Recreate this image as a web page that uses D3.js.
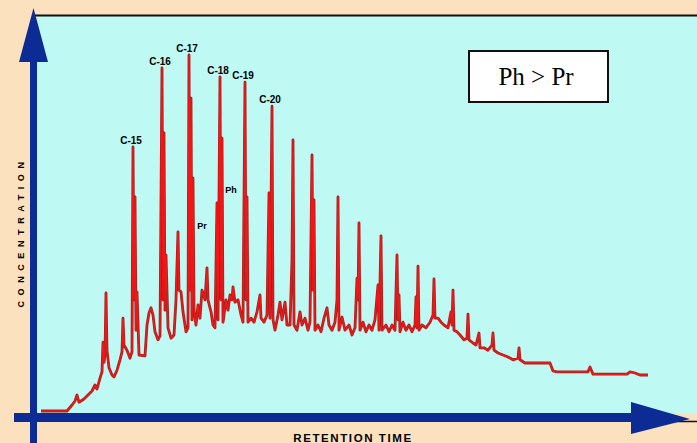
<!DOCTYPE html>
<html>
<head>
<meta charset="utf-8">
<script src="https://cdn.jsdelivr.net/npm/d3@7"></script>
<style>
  html, body { margin: 0; padding: 0; background: #fce1bf; }
  svg { display: block; }
</style>
</head>
<body>
<div id="chart"></div>
<script>
// Retention time (min) and detector response (% of full scale)
var times = [0.3, 2.9, 3.4, 3.7, 3.9, 4.1, 4.6, 5.0, 5.4, 5.7, 5.9, 6.2, 6.4, 6.5, 6.6, 6.7, 6.8, 6.9, 7.1, 7.4,
    7.6, 7.9, 8.2, 8.4, 8.5, 8.6, 8.9, 9.2, 9.4, 9.5, 9.6, 9.7, 9.8, 9.9, 10.1, 10.7, 10.9, 11.1, 11.3, 11.5,
    11.7, 12.0, 12.2, 12.4, 12.5, 12.6, 12.7, 12.8, 13.0, 13.3, 13.6, 13.8, 14.0, 14.1, 14.3, 14.5, 14.8, 15.0, 15.1, 15.2,
    15.3, 15.4, 15.5, 15.6, 15.8, 16.0, 16.2, 16.4, 16.7, 16.9, 17.0, 17.3, 17.5, 17.7, 17.9, 18.0, 18.2, 18.3, 18.4, 18.5,
    18.8, 19.0, 19.2, 19.4, 19.5, 19.7, 20.0, 20.3, 20.5, 20.7, 20.8, 20.9, 21.0, 21.3, 21.6, 21.9, 22.2, 22.3, 22.6, 22.9,
    23.1, 23.2, 23.4, 23.5, 23.7, 24.0, 24.2, 24.4, 24.7, 24.9, 25.2, 25.4, 25.5, 25.6, 25.9, 26.2, 26.4, 26.7, 27.0, 27.2,
    27.4, 27.5, 27.6, 27.7, 28.0, 28.3, 28.6, 28.9, 29.1, 29.4, 29.7, 29.9, 30.0, 30.1, 30.4, 30.7, 31.1, 31.4, 31.7, 31.9,
    32.0, 32.1, 32.2, 32.5, 32.8, 33.1, 33.4, 33.7, 34.0, 34.1, 34.3, 34.4, 34.8, 35.1, 35.4, 35.7, 35.9, 36.0, 36.1, 36.2,
    36.5, 36.8, 37.1, 37.4, 37.7, 37.8, 37.9, 38.0, 38.1, 38.4, 38.8, 39.2, 39.5, 39.6, 39.7, 40.0, 40.3, 40.6, 41.0, 41.3,
    41.4, 41.5, 41.6, 41.9, 42.2, 42.6, 42.9, 43.0, 43.1, 43.5, 43.8, 44.1, 44.2, 44.6, 45.0, 45.4, 45.5, 45.6, 46.0, 46.5,
    47.0, 47.5, 48.0, 48.1, 48.2, 48.7, 49.2, 49.9, 51.2, 51.5, 51.9, 53.2, 55.0, 55.2, 55.5, 55.9, 57.2, 58.9, 59.2, 59.7,
    60.2, 61.0];
var response = [0, 0, 1.5, 2.5, 4, 2.2, 3, 4, 5, 6.5, 5.5, 8.2, 9.8, 17.2, 12.2, 14, 29.5, 15.2, 10.8, 9,
    8.5, 10.2, 12.8, 14.8, 23.2, 16.5, 15.2, 13.2, 14.8, 66, 27.8, 53.5, 20.2, 29.8, 14, 13.8, 21.5, 24.5, 25.8, 24,
    19.8, 17.8, 18.8, 85.8, 27.8, 69.5, 25.2, 39, 20.8, 18.2, 19, 27.8, 44.8, 30.2, 29.8, 24.8, 19.8, 20.8, 89, 30.2,
    78.2, 22.8, 58.2, 25.2, 21.5, 26.5, 23.2, 30.2, 27.8, 35.8, 27.8, 24.8, 21.5, 20.8, 52, 22.8, 83.5, 27.8, 68.2, 22.2,
    27.8, 25.2, 29, 27.8, 31, 27.2, 27.8, 24, 22.2, 82.2, 27.8, 53.5, 22.2, 23.2, 22.2, 24.8, 29, 23.2, 22.2, 24,
    54.5, 23.2, 76.2, 22.8, 20.2, 24, 27.2, 22.8, 27.2, 21.5, 21.5, 37.8, 67.8, 21.5, 20.2, 24.8, 21.5, 23.2, 20.2, 22.2,
    64, 30.2, 52.8, 20.2, 21.5, 19.8, 23.2, 25.8, 21.5, 20.2, 22.2, 27.8, 53.5, 20.2, 23.5, 20.2, 21.5, 19, 20.8, 33.2,
    27.8, 47, 20.2, 22.2, 19.8, 21.5, 20.2, 22.8, 31.5, 20.2, 43.8, 20.2, 21.5, 19.8, 21.5, 20.2, 39, 22.8, 29, 19.8,
    22.2, 20.2, 21.5, 19.8, 21.5, 28.5, 20.8, 36.2, 20.2, 21.5, 20.8, 22.2, 24, 33, 23.2, 23.2, 22.2, 21.5, 20.8, 24.8,
    21.5, 30.2, 20.2, 19.8, 19, 17.8, 18.2, 24.2, 17.8, 17, 16.5, 19.5, 15.8, 15.8, 15.2, 16.5, 19.5, 15.2, 14.5, 14,
    13.5, 12.8, 13.2, 15.8, 12.8, 12, 12, 12, 12, 10, 9.8, 9.8, 9.8, 11, 9.2, 9.2, 9.2, 9.2, 9.8, 9.5,
    9, 9];

// Labelled n-alkane peaks (time, height)
var peakNames = ["C-15", "C-16", "C-17", "C-18", "C-19", "C-20"];
var peakTimes = [9.5, 12.4, 15.1, 18.2, 20.7, 23.4];
var peakHeights = [66, 85.8, 89, 83.5, 82.2, 76.2];

// Isoprenoid labels, placed where the text sits on the trace
var isoNames = ["Pr", "Ph"];
var isoTimes = [16.4, 19.3];
var isoHeights = [45.5, 54.5];

var xLabel = "RETENTION TIME",
    yLabel = "CONCENTRATION",
    boxText = "Ph > Pr";

var width = 697, height = 443;

var xScale = d3.scaleLinear().domain([0, 66]).range([38, 698]),
    yScale = d3.scaleLinear().domain([0, 100]).range([411, 11]);

var trace = times.map(function(t, i) { return {t: t, v: response[i]}; });

var svg = d3.select("#chart").append("svg")
    .attr("width", width)
    .attr("height", height);

// Background: beige page, cyan plot area
svg.append("rect")
    .attr("width", width).attr("height", height)
    .attr("fill", "#fce1bf");
svg.append("rect")
    .attr("x", 37).attr("y", 15)
    .attr("width", width - 37).attr("height", 398)
    .attr("fill", "#bff9f3");

// Top border line
svg.append("line")
    .attr("x1", 33).attr("x2", width)
    .attr("y1", 15.5).attr("y2", 15.5)
    .style("stroke", "#111").style("stroke-width", 2);

// Black line under the x arrow tip
svg.append("line")
    .attr("x1", 640).attr("x2", width)
    .attr("y1", 421.5).attr("y2", 421.5)
    .style("stroke", "#111").style("stroke-width", 1.5);

// The trace: dark edge, then bright red core
var line = d3.line()
    .x(function(d) { return xScale(d.t); })
    .y(function(d) { return yScale(d.v); });

svg.append("path")
    .datum(trace)
    .attr("d", line)
    .attr("fill", "none")
    .style("stroke", "#a32020")
    .style("stroke-width", 2.8)
    .style("stroke-linejoin", "round");
svg.append("path")
    .datum(trace)
    .attr("d", line)
    .attr("fill", "none")
    .style("stroke", "#f21616")
    .style("stroke-width", 1.4)
    .style("stroke-linejoin", "round");

// Axes drawn as thick blue arrows
var blue = "#0c2b94";
svg.append("rect")
    .attr("x", 30).attr("y", 55)
    .attr("width", 7).attr("height", height - 55)
    .attr("fill", blue);
svg.append("path")
    .attr("d", "M33.5,8 L48,62 L19,62 Z")
    .attr("fill", blue);
svg.append("rect")
    .attr("x", 14).attr("y", 413)
    .attr("width", 625).attr("height", 9)
    .attr("fill", blue);
svg.append("path")
    .attr("d", "M631,402 L690,419 L631,434 Z")
    .attr("fill", blue);

// Axis labels
svg.append("text")
    .attr("x", 353).attr("y", 442)
    .attr("text-anchor", "middle")
    .style("font-family", "Arial, 'Liberation Sans', sans-serif")
    .style("font-weight", "bold")
    .style("font-size", "11.5px")
    .style("letter-spacing", "1.6px")
    .text(xLabel);

svg.append("text")
    .attr("transform", "translate(24,232) rotate(-90)")
    .attr("text-anchor", "middle")
    .style("font-family", "Arial, 'Liberation Sans', sans-serif")
    .style("font-weight", "bold")
    .style("font-size", "9px")
    .style("letter-spacing", "5.6px")
    .text(yLabel);

// Peak labels
var labelFont = "Arial, 'Liberation Sans', sans-serif";
svg.append("g").selectAll("text")
    .data(peakNames)
    .enter().append("text")
    .attr("x", function(d, i) { return xScale(peakTimes[i]) - 2; })
    .attr("y", function(d, i) { return yScale(peakHeights[i]) - 3; })
    .attr("text-anchor", "middle")
    .style("font-family", labelFont)
    .style("font-weight", "bold")
    .style("font-size", "10px")
    .text(function(d) { return d; });

svg.append("g").selectAll("text")
    .data(isoNames)
    .enter().append("text")
    .attr("x", function(d, i) { return xScale(isoTimes[i]); })
    .attr("y", function(d, i) { return yScale(isoHeights[i]); })
    .attr("text-anchor", "middle")
    .style("font-family", labelFont)
    .style("font-weight", "bold")
    .style("font-size", "9px")
    .text(function(d) { return d; });

// Ph > Pr box
svg.append("rect")
    .attr("x", 469).attr("y", 51)
    .attr("width", 139).attr("height", 51)
    .attr("fill", "#fff")
    .style("stroke", "#111")
    .style("stroke-width", 2);
svg.append("text")
    .attr("x", 536).attr("y", 85)
    .attr("text-anchor", "middle")
    .style("font-family", "'Liberation Serif', 'Times New Roman', serif")
    .style("font-size", "25px")
    .text(boxText);
</script>
</body>
</html>
